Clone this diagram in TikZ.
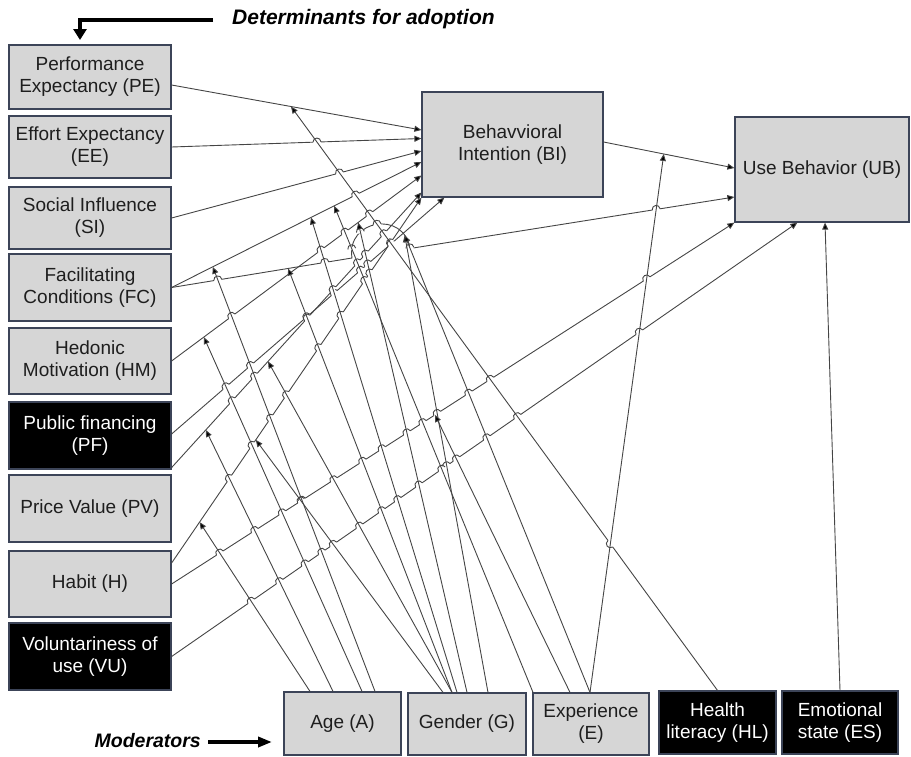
\documentclass[tikz,border=0pt]{standalone}
\usepackage{fontspec}
\setmainfont{Liberation Sans}
\usetikzlibrary{arrows.meta,calc,intersections}
\definecolor{boxg}{HTML}{D6D6D6}
\definecolor{bordc}{HTML}{3C4458}
\definecolor{linec}{HTML}{454545}
\definecolor{txtc}{HTML}{1E1E1E}
% angle of a connector (canvas)
\newcommand\setang[3]{%
  \path let \p1=(#2), \p2=(#3), \n1={atan2(\y2-\y1,\x2-\x1)} in
    \pgfextra{\expandafter\xdef\csname ang#1\endcsname{\n1}};}
% a jump of a connector over a crossing line
\newcommand\bumpat[2]{%
  \draw[white, line width=2.8pt] ($(#1)+(#2+180:3.8pt)$) -- ($(#1)+(#2:3.8pt)$);
  \draw[linec, line width=0.9pt] ($(#1)+(#2+180:4pt)$) .. controls +(#2+90:5.3pt) and +(#2+90:5.3pt) .. ($(#1)+(#2:4pt)$);}
\newcommand\jmp[2]{%
  \path[name intersections={of=#1 and #2, name=I, total=\t}] \pgfextra{\xdef\jtot{\t}};
  \ifnum\jtot>0
    \foreach \k in {1,...,\jtot}{\bumpat{I-\k}{\csname ang#1\endcsname}}%
  \fi}
\begin{document}
\begin{tikzpicture}[x=1pt,y=-1pt,
  gbox/.style={draw=bordc, fill=boxg, line width=1.2pt, inner sep=0pt, align=center,
     font=\fontsize{19}{22}\selectfont, text=txtc, minimum width=162pt},
  kbox/.style={gbox, fill=black, text=white},
  conn/.style={draw=linec, line width=0.9pt, -{Triangle[length=7pt,width=6pt,fill=black]}},
  bigarrow/.style={draw=black, line width=3.8pt, -{Triangle[length=11pt,width=13pt]}},
  lbl/.style={font=\bfseries\itshape, inner sep=0pt}]
\useasboundingbox (0,0) rectangle (911,756);
% determinants
\node[gbox, minimum height=64pt] (PE) at (90,77) {Performance\\Expectancy (PE)};
\node[gbox, minimum height=62pt] (EE) at (90,147) {Effort Expectancy\\(EE)};
\node[gbox, minimum height=62pt] (SI) at (90,218) {Social Influence\\(SI)};
\node[gbox, minimum height=67pt] (FC) at (90,287.5) {Facilitating\\Conditions (FC)};
\node[gbox, minimum height=66pt] (HM) at (90,361) {Hedonic\\Motivation (HM)};
\node[kbox, minimum height=67pt] (PF) at (90,435.5) {Public financing\\(PF)};
\node[gbox, minimum height=67pt] (PV) at (90,508.5) {Price Value (PV)};
\node[gbox, minimum height=66pt] (H) at (90,584) {Habit (H)};
\node[kbox, minimum height=67pt] (VU) at (90,656.5) {Voluntariness of\\use (VU)};
% outcomes
\node[gbox, minimum width=181pt, minimum height=105pt] (BI) at (512.5,144.5) {Behavvioral\\Intention (BI)};
\node[gbox, minimum width=174pt, minimum height=105pt] (UB) at (822,169.5) {Use Behavior (UB)};
% moderators
\node[gbox, minimum width=117pt, minimum height=63pt] (AG) at (342.5,723.5) {Age (A)};
\node[gbox, minimum width=118pt, minimum height=62pt] (GE) at (467,724) {Gender (G)};
\node[gbox, minimum width=116pt, minimum height=62pt] (EX) at (591,724) {Experience\\(E)};
\node[kbox, minimum width=117pt, minimum height=63pt] (HL) at (717.5,722.5) {Health\\literacy (HL)};
\node[kbox, minimum width=116pt, minimum height=63pt] (ES) at (840,722.5) {Emotional\\state (ES)};
% labels
\node[lbl, font=\fontsize{21}{24}\selectfont\bfseries\itshape, anchor=west] (DT) at (232,19) {Determinants for adoption};
\coordinate (dtc) at (80,20);
\coordinate (dtt) at (80,40);
\draw[bigarrow] (DT.west) ++(-19,1) -- (dtc) -- (dtt);
\node[lbl, font=\fontsize{19.5}{22}\selectfont\bfseries\itshape, anchor=east] (MO) at (201,741) {Moderators};
\coordinate (mot) at (272,742);
\draw[bigarrow, -{Triangle[length=14pt,width=10pt]}] (MO.east) ++(7,1) -- (mot);
% end points of the determinant connectors
\coordinate (pe0) at ($(PE.east)+(0,8)$);        \coordinate (pe1) at ($(BI.west)+(0,-14.5)$);
\coordinate (ee0) at (EE.east);                  \coordinate (ee1) at ($(BI.west)+(0,-6)$);
\coordinate (si0) at (SI.east);                  \coordinate (si1) at ($(BI.west)+(0,6.5)$);
\coordinate (fc0) at (FC.east);                  \coordinate (fa1) at ($(BI.west)+(0,17.5)$);
\coordinate (fja) at (352,258);                  \coordinate (fjb) at (410,248.5);
\coordinate (fb1) at ($(UB.west)+(0,27.5)$);
\coordinate (hm0) at (HM.east);                  \coordinate (hm1) at ($(BI.west)+(0,31)$);
\coordinate (pa0) at ($(PF.east)+(0,-1.5)$);     \coordinate (pa1) at ($(BI.south west)+(23,0)$);
\coordinate (pb0) at ($(PF.south east)+(0,-2)$); \coordinate (pb1) at ($(BI.west)+(0,48)$);
\coordinate (hb0) at ($(H.east)+(0,-21)$);       \coordinate (hb1) at (BI.south west);
\coordinate (hu0) at (H.east);                   \coordinate (hu1) at (UB.south west);
\coordinate (vu0) at (VU.east);                  \coordinate (vu1) at ($(UB.south west)+(63,0)$);
\coordinate (bu0) at ($(BI.east)+(0,-2.5)$);     \coordinate (bu1) at ($(UB.west)+(0,-1.5)$);
% determinant connectors
\draw[conn, name path=dPE] (pe0) -- (pe1) coordinate[pos=0.478] (ta);
\draw[conn, name path=dEE] (ee0) -- (ee1);
\draw[conn, name path=dSI] (si0) -- (si1);
\draw[conn, name path=dFA] (fc0) -- (fa1) coordinate[pos=0.165] (tb) coordinate[pos=0.558] (tc) coordinate[pos=0.651] (td);
\draw[conn, name path=dFB] (fc0) -- (fja) coordinate[pos=0.646] (tn)
   .. controls ($(fja)+(99:39pt)$) and ($(fjb)+(99:39pt)$) .. (fjb) coordinate[pos=0.86] (tj) -- (fb1);
\draw[conn, name path=dHM] (hm0) -- (hm1) coordinate[pos=0.129] (tf) coordinate[pos=0.747] (te);
\draw[conn, name path=dPA] (pa0) -- (pa1);
\draw[conn, name path=dPB] (pb0) -- (pb1) coordinate[pos=0.137] (th) coordinate[pos=0.386] (tg);
\draw[conn, name path=dHB] (hb0) -- (hb1) coordinate[pos=0.112] (tm) coordinate[pos=0.337] (ti);
\draw[conn, name path=dHU] (hu0) -- (hu1) coordinate[pos=0.468] (tl);
\draw[conn, name path=dVU] (vu0) -- (vu1);
\draw[conn, name path=dBU] (bu0) -- (bu1) coordinate[pos=0.46] (to);
\draw[conn] (ES.north) -- ($(UB.south)+(3,0)$);
\setang{dEE}{ee0}{ee1}\setang{dSI}{si0}{si1}\setang{dFA}{fc0}{fa1}
\setang{dFB}{fc0}{fb1}\setang{dHM}{hm0}{hm1}\setang{dPA}{pa0}{pa1}
\setang{dPB}{pb0}{pb1}\setang{dHB}{hb0}{hb1}\setang{dHU}{hu0}{hu1}
\setang{dVU}{vu0}{vu1}\setang{mHL}{HL.north}{ta}
% moderator connectors: start points and tips
\coordinate (s1) at ($(AG.north)+(-32.5,0)$);  \coordinate (e1) at (tm);
\coordinate (s2) at ($(AG.north)+(-9.5,0)$);   \coordinate (e2) at (th);
\coordinate (s3) at ($(AG.north)+(19.5,0)$);   \coordinate (e3) at (tf);
\coordinate (s4) at ($(AG.north)+(32.5,0)$);   \coordinate (e4) at (tb);
\coordinate (s5) at ($(GE.north)+(-24,0)$);    \coordinate (e5) at (ti);
\coordinate (s6) at ($(GE.north)+(-15,0)$);    \coordinate (e6) at (tg);
\coordinate (s7) at ($(GE.north)+(-15,0)$);    \coordinate (e7) at (tn);
\coordinate (s8) at ($(GE.north)+(-10,0)$);    \coordinate (e8) at (tc);
\coordinate (s9) at (GE.north);                \coordinate (e9) at (te);
\coordinate (s10) at ($(GE.north)+(21,0)$);    \coordinate (e10) at (tj);
\coordinate (s11) at ($(EX.north)+(-58,0)$);   \coordinate (e11) at (td);
\coordinate (s12) at ($(EX.north)+(-21,0)$);   \coordinate (e12) at (tl);
\coordinate (s13) at ($(EX.north)+(-1,0)$);    \coordinate (e13) at (tj);
\coordinate (s14) at ($(EX.north)+(-1,0)$);    \coordinate (e14) at (to);
\coordinate (s15) at (HL.north);               \coordinate (e15) at (ta);
\foreach \i in {1,...,15}{\path[name path global=m\i] (s\i) -- ($(e\i)!7pt!(s\i)$);}
% jumps of the determinant connectors over the moderator connectors
\foreach \d in {dEE,dSI,dFA,dFB,dHM,dPA,dPB,dHB,dHU,dVU}{%
  \foreach \i in {1,...,13,15}{\jmp{\d}{m\i}}}
% moderator connectors
\foreach \i in {1,...,13}{\draw[conn] (s\i) -- (e\i);}
\draw[conn, name path=mHL] (s15) -- (e15);
\foreach \d in {dEE,dSI,dFA,dFB,dHM,dPA,dPB,dHB,dHU,dVU}{\jmp{\d}{m14}}
\jmp{mHL}{m14}
\draw[conn] (s14) -- (e14);
\end{tikzpicture}
\end{document}
